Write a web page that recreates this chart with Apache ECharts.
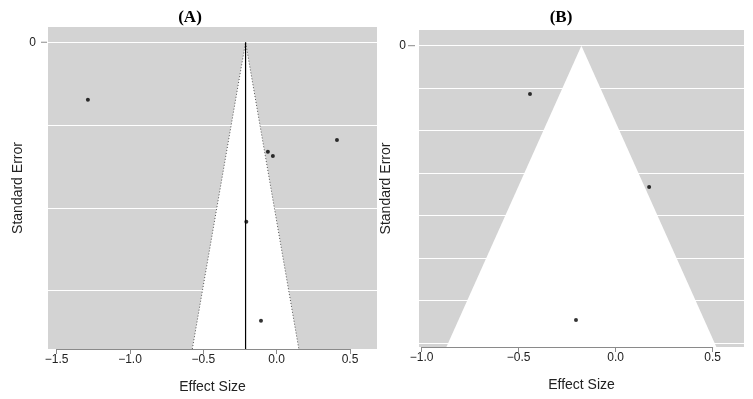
<!DOCTYPE html>
<html>
<head>
<meta charset="utf-8">
<script src="https://cdn.jsdelivr.net/npm/echarts/dist/echarts.min.js"></script>
<style>
  html, body { margin: 0; padding: 0; background: #fff; }
  #chart { width: 753px; height: 399px; }
</style>
</head>
<body>
<div id="chart"></div>
<script>
// panel A
const effectA = [-1.287, 0.411, -0.060, -0.026, -0.207, -0.107];
const seA = [0.0348, 0.0590, 0.0662, 0.0687, 0.1085, 0.1683];
const centerA = -0.212;
const seMaxA = 0.1853;
const gridLinesA = [0, 0.05, 0.1, 0.15];
const xTicksA = [-1.5, 0.5];

// panel B
const effectB = [-0.442, 0.172, -0.205];
const seB = [0.0569, 0.1665, 0.3232];
const centerB = -0.177;
const seMaxB = 0.355;
const gridLinesB = [0, 0.05, 0.1, 0.15, 0.2, 0.25, 0.3, 0.35];
const xTicksB = [-1.0, 0.5];

const yLabels = [0];
const titles = ['(A)', '(B)'];

const font = 'Liberation Sans';

function fmt(v) {
  return v.toFixed(1).replace('-', '\u2212');
}

function points(xs, ys) {
  return xs.map((x, i) => [x, ys[i]]);
}

function funnelSeries(idx, center, seMax, withLines) {
  const hw = 1.96 * seMax;
  const list = [
    {
      type: 'custom',
      xAxisIndex: idx,
      yAxisIndex: idx,
      silent: true,
      z: 1,
      data: [[center, seMax]],
      renderItem: function (params, api) {
        const c = api.value(0);
        const s = api.value(1);
        const top = api.coord([c, 0]);
        const left = api.coord([c - 1.96 * s, s]);
        const right = api.coord([c + 1.96 * s, s]);
        return {
          type: 'polygon',
          shape: { points: [top, left, right] },
          style: { fill: '#ffffff' }
        };
      }
    }
  ];
  if (withLines) {
    list.push({
      type: 'line',
      xAxisIndex: idx,
      yAxisIndex: idx,
      silent: true,
      showSymbol: false,
      z: 3,
      lineStyle: { color: '#555', width: 1, type: [1, 2] },
      data: [[center - hw, seMax], [center, 0], [center + hw, seMax]]
    });
    list.push({
      type: 'line',
      xAxisIndex: idx,
      yAxisIndex: idx,
      silent: true,
      showSymbol: false,
      z: 4,
      lineStyle: { color: '#000', width: 1.2 },
      data: [[center, 0], [center, seMax]]
    });
  }
  return list;
}

function scatterSeries(idx, data, gridLines) {
  return {
    type: 'scatter',
    xAxisIndex: idx,
    yAxisIndex: idx,
    symbolSize: 4,
    z: 5,
    itemStyle: { color: '#000' },
    data: data,
    markLine: {
      silent: true,
      symbol: 'none',
      label: { show: false },
      lineStyle: { color: '#ffffff', width: 1, type: 'solid' },
      z: 2,
      data: gridLines.map(v => ({ yAxis: v }))
    }
  };
}

function mainX(min, max) {
  return {
    type: 'value',
    min: min,
    max: max,
    name: 'Effect Size',
    nameLocation: 'middle',
    nameGap: 31,
    nameTextStyle: { fontFamily: font, fontSize: 14, color: '#222' },
    axisLine: { show: false },
    axisTick: { show: false },
    axisLabel: { show: false },
    splitLine: { show: false }
  };
}

function tickX(gridIndex, ticks) {
  return {
    type: 'value',
    gridIndex: gridIndex,
    min: ticks[0],
    max: ticks[1],
    interval: 0.5,
    axisLine: { show: true, lineStyle: { color: '#8a8a8a', width: 1 } },
    axisTick: { show: true, length: 5, lineStyle: { color: '#8a8a8a' } },
    axisLabel: { fontFamily: font, fontSize: 12, color: '#222', margin: 5, formatter: fmt },
    splitLine: { show: false }
  };
}

// R draws only the 0 tick on the y axis; the tick is a small rich-text bar after the label
function mainY(gridIndex, min, max, gap, margin, space, tickLen) {
  return {
    type: 'value',
    gridIndex: gridIndex,
    inverse: true,
    min: min,
    max: max,
    name: 'Standard Error',
    nameLocation: 'middle',
    nameGap: gap,
    nameTextStyle: { fontFamily: font, fontSize: 14, color: '#222' },
    axisLine: { show: false },
    axisTick: { show: false },
    axisLabel: {
      fontFamily: font,
      fontSize: 12,
      color: '#222',
      margin: margin,
      customValues: yLabels,
      formatter: v => '{n|' + v + '}{s| }{t| }',
      rich: {
        n: { fontFamily: font, fontSize: 12, color: '#222' },
        s: { width: space },
        t: { width: tickLen, height: 1, backgroundColor: '#8a8a8a' }
      }
    },
    splitLine: { show: false }
  };
}

function hiddenY(gridIndex) {
  return { type: 'value', gridIndex: gridIndex, min: 0, max: 1, show: false };
}

const option = {
  animation: false,
  backgroundColor: '#ffffff',
  grid: [
    { left: 48, top: 27, width: 329, height: 322, show: true, backgroundColor: '#d3d3d3', borderWidth: 0 },
    { left: 56.7, top: 27, width: 293.3, height: 322 },
    { left: 419, top: 30, width: 325, height: 317, show: true, backgroundColor: '#d3d3d3', borderWidth: 0 },
    { left: 421.7, top: 30, width: 291, height: 317 }
  ],
  xAxis: [
    mainX(-1.559, 0.684),
    tickX(1, xTicksA),
    Object.assign(mainX(-1.014, 0.661), { gridIndex: 2 }),
    tickX(3, xTicksB)
  ],
  yAxis: [
    mainY(0, -0.0092, seMaxA, 23, 1, 5, 6),
    hiddenY(1),
    mainY(2, -0.0185, seMaxB, 26, 4, 2, 7),
    hiddenY(3)
  ],
  graphic: [
    { type: 'text', x: 190, y: 18, style: { text: titles[0], align: 'center', verticalAlign: 'middle', font: 'bold 17px "Liberation Serif"', fill: '#000' } },
    { type: 'text', x: 561, y: 18, style: { text: titles[1], align: 'center', verticalAlign: 'middle', font: 'bold 17px "Liberation Serif"', fill: '#000' } }
  ],
  series: [
    ...funnelSeries(0, centerA, seMaxA, true),
    scatterSeries(0, points(effectA, seA), gridLinesA),
    ...funnelSeries(2, centerB, seMaxB, false),
    scatterSeries(2, points(effectB, seB), gridLinesB)
  ]
};

const chart = echarts.init(document.getElementById('chart'));
chart.setOption(option);
</script>
</body>
</html>
